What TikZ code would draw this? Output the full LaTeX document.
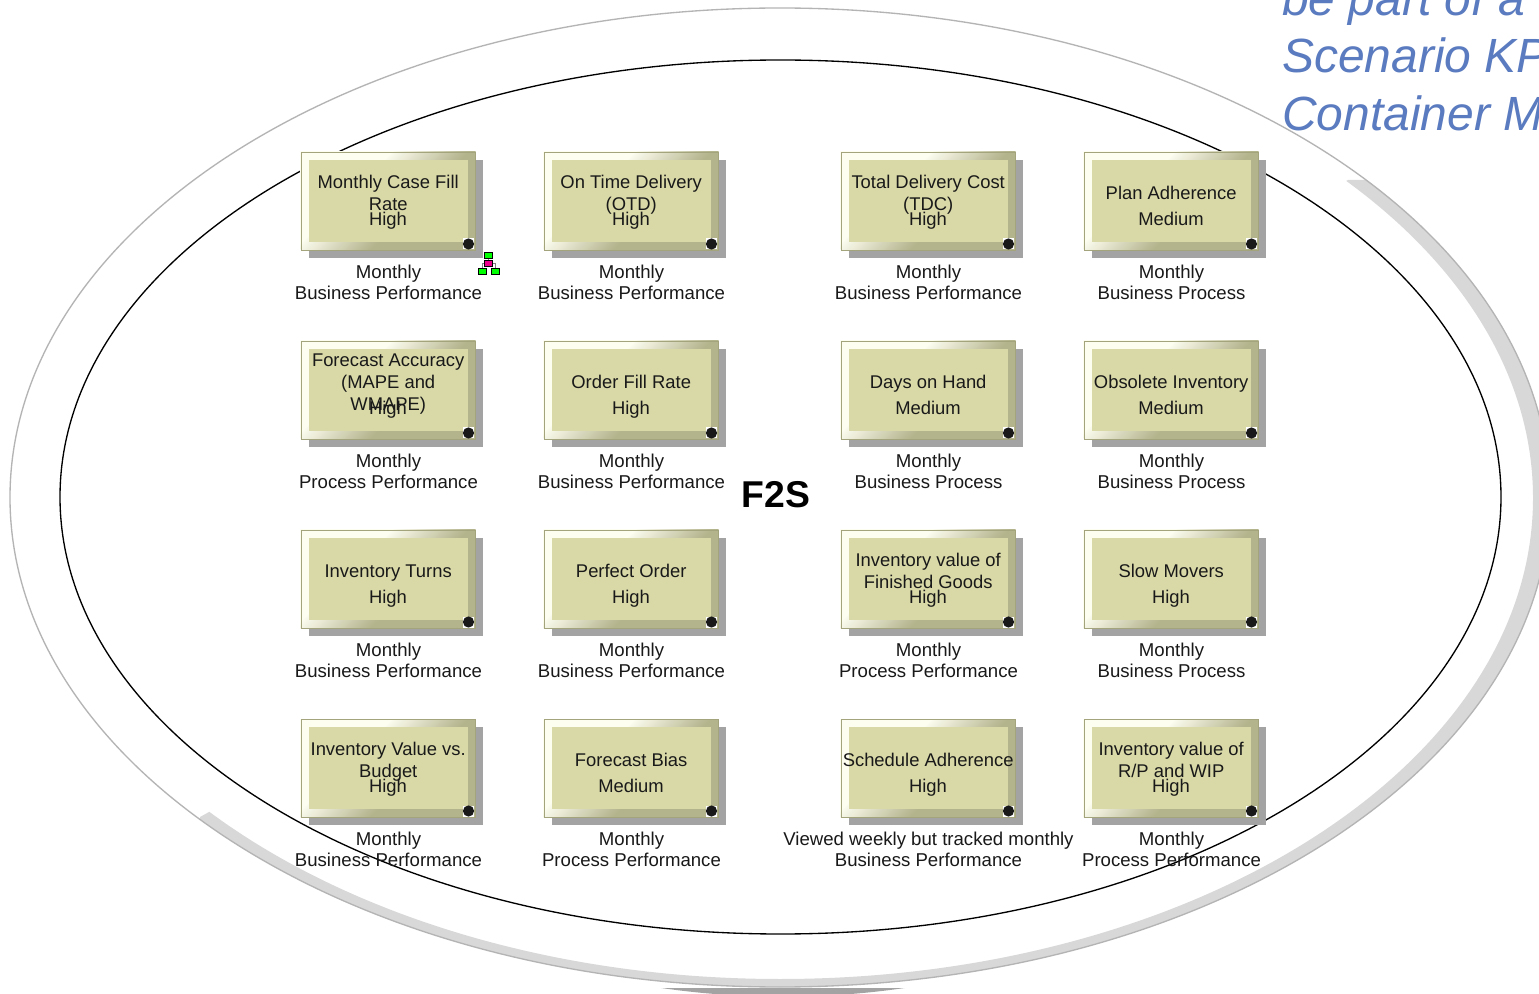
\documentclass[tikz,border=0pt]{standalone}
\usepackage{fontspec}
\setmainfont{Liberation Sans}
\definecolor{boxfill}{HTML}{D9D9A8}
\definecolor{boxdark}{HTML}{B3B38C}
\definecolor{boxedge}{HTML}{A3A37C}
\definecolor{boxlight}{HTML}{FDFDF0}
\definecolor{boxshadow}{HTML}{A3A3A3}
\definecolor{ringband}{HTML}{D8D8D8}
\definecolor{ringline}{HTML}{B4B4B4}
\definecolor{noteblue}{HTML}{5A7BBF}
\pgfdeclarehorizontalshading{bevel}{100bp}{color(0bp)=(boxlight); color(38bp)=(boxlight); color(58bp)=(boxdark); color(100bp)=(boxdark)}
\tikzset{x=0.75pt,y=-0.75pt,
 lbl/.style={font=\fontsize{13.8}{16.7}\selectfont,inner sep=0pt,align=center,text=black!90,
   execute at begin node={\rule{0pt}{10pt}},execute at end node={\rule[-3pt]{0pt}{3pt}}},
 caplbl/.style={font=\fontsize{13.95}{15.75}\selectfont,inner sep=0pt,align=center,text=black!90,
   execute at begin node={\rule{0pt}{10pt}},execute at end node={\rule[-3pt]{0pt}{3pt}}},
 iconbox/.style={draw=black,minimum width=6pt,minimum height=4.4pt,inner sep=0pt,line width=.5pt},
}
% #1 name, #2 left x, #3 top y, #4 title lines, #5 priority, #6 caption
\newcommand{\kpibox}[6]{%
 \fill[boxshadow] (#2+8,#3+8) rectangle (#2+182,#3+106);
 \shade[shading=bevel,shading angle=-45] (#2-.5,#3) rectangle (#2+174.5,#3+98);
 \fill[boxfill] (#2+8,#3+8) rectangle (#2+167,#3+90);
 \node[draw=boxedge,line width=0.9pt,minimum width=130.9pt,minimum height=73.5pt,inner sep=0pt,anchor=north west] (#1) at (#2-.5,#3) {};
 \fill[white] (#2+162,#3+86.5) rectangle (#2+173,#3+97.5);
 \fill[black!90] (#2+167.5,#3+92) circle (5.6);
 \node[lbl,anchor=center] (#1t) at (#2+87.2,#3+43) {#4};
 \node[lbl,anchor=center] (#1p) at (#2+87,#3+68.5) {#5};
 \node[caplbl,anchor=center] (#1c) at (#2+87.5,#3+132) {#6};
}
\begin{document}
\begin{tikzpicture}
\useasboundingbox (0,0) rectangle (1539,994);
\fill[white] (0,0) rectangle (1539,994);
% ring band
\begin{scope}
 \clip (1348,180) -- (1600,180) -- (1600,1000) -- (200,1000) -- (200,817) -- cycle;
 \fill[ringband,even odd rule] (780,497.5) ellipse [x radius=770, y radius=489.5] (780,498) ellipse [x radius=753, y radius=481];
\end{scope}
\begin{scope}
 \clip (600,988.5) rectangle (960,1000);
 \fill[boxshadow] (783,507.7) ellipse [x radius=644, y radius=489];
\end{scope}
\draw[ringline,line width=1pt] (780,497.5) ellipse [x radius=770, y radius=489.5];
\draw[black,line width=1pt] (780.5,497) ellipse [x radius=720.5, y radius=437];
\node[font=\bfseries\fontsize{28}{28}\selectfont,inner sep=0pt] (f2s) at (776,495) {F2S};
\kpibox{a1}{301}{152}{Monthly Case Fill\\Rate}{High}{Monthly\\Business Performance}
\kpibox{a2}{544}{152}{On Time Delivery\\(OTD)}{High}{Monthly\\Business Performance}
\kpibox{a3}{841}{152}{Total Delivery Cost\\(TDC)}{High}{Monthly\\Business Performance}
\kpibox{a4}{1084}{152}{Plan Adherence}{Medium}{Monthly\\Business Process}
\kpibox{b1}{301}{341}{Forecast Accuracy\\(MAPE and\\WMAPE)}{High}{Monthly\\Process Performance}
\kpibox{b2}{544}{341}{Order Fill Rate}{High}{Monthly\\Business Performance}
\kpibox{b3}{841}{341}{Days on Hand}{Medium}{Monthly\\Business Process}
\kpibox{b4}{1084}{341}{Obsolete Inventory}{Medium}{Monthly\\Business Process}
\kpibox{c1}{301}{530}{Inventory Turns}{High}{Monthly\\Business Performance}
\kpibox{c2}{544}{530}{Perfect Order}{High}{Monthly\\Business Performance}
\kpibox{c3}{841}{530}{Inventory value of\\Finished Goods}{High}{Monthly\\Process Performance}
\kpibox{c4}{1084}{530}{Slow Movers}{High}{Monthly\\Business Process}
\kpibox{d1}{301}{719}{Inventory Value vs.\\Budget}{High}{Monthly\\Business Performance}
\kpibox{d2}{544}{719}{Forecast Bias}{Medium}{Monthly\\Process Performance}
\kpibox{d3}{841}{719}{Schedule Adherence}{High}{Viewed weekly but tracked monthly\\Business Performance}
\kpibox{d4}{1084}{719}{Inventory value of\\R/P and WIP}{High}{Monthly\\Process Performance}
% hierarchy icon
\node[iconbox,fill=green] (i1) at (488.5,255.5) {};
\node[iconbox,fill=magenta] (i2) at (488.5,263.5) {};
\node[iconbox,fill=green] (i3) at (482,271) {};
\node[iconbox,fill=green] (i4) at (495,271) {};
\draw[black!50,line width=.5pt] (i1) -- (i2);
\draw[black!50,line width=.5pt] (i2.west) -| (i3.north);
\draw[black!50,line width=.5pt] (i2.east) -| (i4.north);
% note
\begin{scope}
\clip (0,0) rectangle (1539,994);
\node[font=\itshape\fontsize{36}{36}\selectfont,text=noteblue,inner sep=0pt,anchor=west] (n1) at (1282,3) {be part of a};
\node[font=\itshape\fontsize{36}{36}\selectfont,text=noteblue,inner sep=0pt,anchor=west] (n2) at (1282,55) {Scenario KPI};
\node[font=\itshape\fontsize{36}{36}\selectfont,text=noteblue,inner sep=0pt,anchor=west] (n3) at (1282,113) {Container M};
\end{scope}
\end{tikzpicture}
\end{document}
